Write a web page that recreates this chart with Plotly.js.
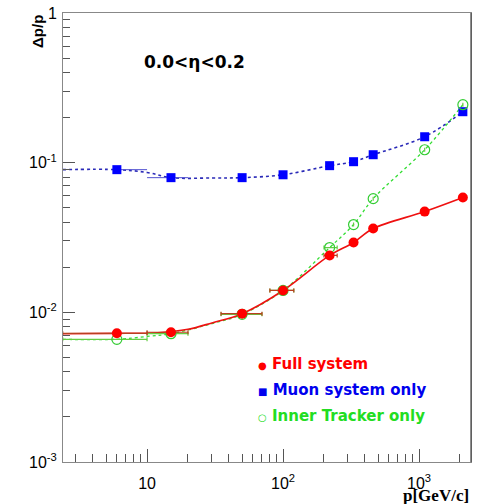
<!DOCTYPE html>
<html>
<head>
<meta charset="utf-8">
<script src="https://cdn.plot.ly/plotly-3.0.1.min.js"></script>
<style>html,body{margin:0;padding:0;background:#fff}#chart{width:483px;height:504px}</style>
</head>
<body>
<div id="chart"></div>
<script>
// Momentum points [GeV/c]
const momentum = [6, 15, 50, 100, 220, 330, 460, 1100, 2100];
// Resolution dp/p
const fullSystem  = [0.00724, 0.00736, 0.0098, 0.0140, 0.0240, 0.0293, 0.0363, 0.0471, 0.0585];
const muonSystem  = [0.0898, 0.0794, 0.0794, 0.0830, 0.0955, 0.1015, 0.1130, 0.1490, 0.2190];
const innerTracker = [0.0066, 0.0072, 0.0097, 0.0140, 0.0271, 0.0386, 0.0575, 0.1220, 0.2440];
// bin half widths (horizontal error bars)
const binMinus = [3.6, 5, 15, 20, 20, 0, 0, 0, 0];
const binPlus  = [4, 5, 20, 20, 30, 0, 0, 0, 0];
const muonBinMinus = [0, 5, 0, 0, 0, 0, 0, 0, 0];
const muonBinPlus  = [4, 5, 0, 0, 0, 0, 0, 0, 0];

// fit curves
const fitFullX = [2.4, 6, 12, 20, 30, 50, 100, 220, 330, 460, 1100, 2100];
const fitFullY = [0.0072, 0.00724, 0.0073, 0.0077, 0.0085, 0.0098, 0.0140, 0.0240, 0.0293, 0.0363, 0.0471, 0.0585];
const fitMuonX = [2.4, 6, 10, 15, 30, 50, 100, 220, 330, 460, 1100, 2100];
const fitMuonY = [0.0898, 0.0898, 0.0860, 0.0794, 0.0790, 0.0794, 0.0830, 0.0955, 0.1015, 0.1130, 0.1490, 0.2190];
const fitInnerX = [2.4, 6, 10, 15, 30, 50, 100, 220, 330, 460, 1100, 2100];
const fitInnerY = [0.0066, 0.0066, 0.0069, 0.0072, 0.0084, 0.0097, 0.0140, 0.0271, 0.0386, 0.0575, 0.1220, 0.2440];

const xTickVals = [10, 100, 1000];
const xTickText = ['10', '10<sup>2</sup>', '10<sup>3</sup>'];
const yTickVals = [0.001, 0.01, 0.1, 1];
const yTickText = ['10<sup>-3</sup>', '10<sup>-2</sup>', '10<sup>-1</sup>', '1'];

const traces = [
  {x: fitMuonX, y: fitMuonY, mode: 'lines', line: {color: '#2a2ab8', width: 1.6, dash: 'dot', shape: 'spline'}, hoverinfo: 'skip'},
  {x: fitInnerX, y: fitInnerY, mode: 'lines', line: {color: '#33dd33', width: 1.3, dash: 'dot', shape: 'spline'}, hoverinfo: 'skip'},
  {x: fitFullX, y: fitFullY, mode: 'lines', line: {color: '#ee1111', width: 1.6, shape: 'spline'}, hoverinfo: 'skip'},
  {x: momentum, y: muonSystem, mode: 'markers', marker: {symbol: 'square', size: 9, color: '#0000ff'},
   error_x: {type: 'data', symmetric: false, array: muonBinPlus, arrayminus: muonBinMinus, color: '#5050d0', thickness: 1, width: 0}},
  {x: momentum, y: innerTracker, mode: 'markers', marker: {symbol: 'circle-open', size: 10, color: '#33cc33', line: {width: 1.2}},
   error_x: {type: 'data', symmetric: false, array: binPlus, arrayminus: binMinus, color: '#66cc44', thickness: 1.2, width: 2}},
  {x: momentum, y: fullSystem, mode: 'markers', marker: {symbol: 'circle', size: 10, color: '#ff0000'},
   error_x: {type: 'data', symmetric: false, array: binPlus, arrayminus: binMinus, color: '#b84020', thickness: 1.2, width: 2}}
];

const axisFont = {family: 'Liberation Sans, Arial, sans-serif', size: 16, color: '#000'};
const wideBold = 'DejaVu Sans, Liberation Sans, sans-serif';
const sym = s => '<span style="font-size:10px">' + s + '</span> ';

const layout = {
  width: 483, height: 504,
  margin: {l: 63, r: 12, t: 13, b: 42},
  paper_bgcolor: '#fff', plot_bgcolor: '#fff',
  showlegend: false,
  xaxis: {
    type: 'log', range: [Math.log10(2.41), Math.log10(2410)],
    tickvals: xTickVals, ticktext: xTickText, tickfont: axisFont, ticklabelstandoff: 7,
    ticks: 'inside', ticklen: 13, tickcolor: '#555', tickwidth: 1,
    minor: {ticks: 'inside', ticklen: 8, tickcolor: '#555', dtick: 'D1', showgrid: false},
    showgrid: false, zeroline: false, showline: true, linecolor: '#888', linewidth: 1, mirror: true
  },
  yaxis: {
    type: 'log', range: [-3, 0],
    tickvals: yTickVals, ticktext: yTickText, tickfont: axisFont, ticklabelstandoff: 2,
    ticks: 'inside', ticklen: 12, tickcolor: '#555', tickwidth: 1,
    minor: {ticks: 'inside', ticklen: 7, tickcolor: '#555', dtick: 'D1', showgrid: false},
    showgrid: false, zeroline: false, showline: true, linecolor: '#888', linewidth: 1, mirror: true
  },
  shapes: [
    {type: 'line', xref: 'paper', yref: 'paper', x0: 1, x1: 1, y0: 0, y1: 1, line: {color: '#444', width: 1.2}}
  ],
  annotations: [
    {xref: 'paper', yref: 'paper', x: 0.3235, y: 0.891, xanchor: 'center', yanchor: 'middle', text: '<b>0.0&lt;η&lt;0.2</b>', showarrow: false,
     font: {family: wideBold, size: 17, color: '#000'}},
    {xref: 'paper', yref: 'paper', x: -0.061, y: 0.958, yanchor: 'middle', xanchor: 'center', text: '<b>Δp/p</b>', textangle: -90, showarrow: false,
     font: {family: 'Liberation Sans, Arial, sans-serif', size: 15, color: '#000'}},
    {xref: 'paper', yref: 'paper', x: 1, y: -0.0735, xanchor: 'right', yanchor: 'middle', text: '<b>p[GeV/c]</b>', showarrow: false,
     font: {family: 'Liberation Serif, Times New Roman, serif', size: 17, color: '#000'}},
    {xref: 'paper', yref: 'paper', x: 0.473, y: 0.218, xanchor: 'left', yanchor: 'middle', text: '<b>' + sym('●') + 'Full system</b>', showarrow: false,
     font: {family: wideBold, size: 15, color: '#ff0000'}},
    {xref: 'paper', yref: 'paper', x: 0.473, y: 0.160, xanchor: 'left', yanchor: 'middle', text: '<b>' + sym('■') + 'Muon system only</b>', showarrow: false,
     font: {family: wideBold, size: 15, color: '#0000ee'}},
    {xref: 'paper', yref: 'paper', x: 0.473, y: 0.102, xanchor: 'left', yanchor: 'middle', text: '<b>' + sym('○') + 'Inner Tracker only</b>', showarrow: false,
     font: {family: wideBold, size: 15, color: '#22dd22'}}
  ]
};

Plotly.newPlot('chart', traces, layout, {staticPlot: true, displayModeBar: false});
</script>
</body>
</html>
